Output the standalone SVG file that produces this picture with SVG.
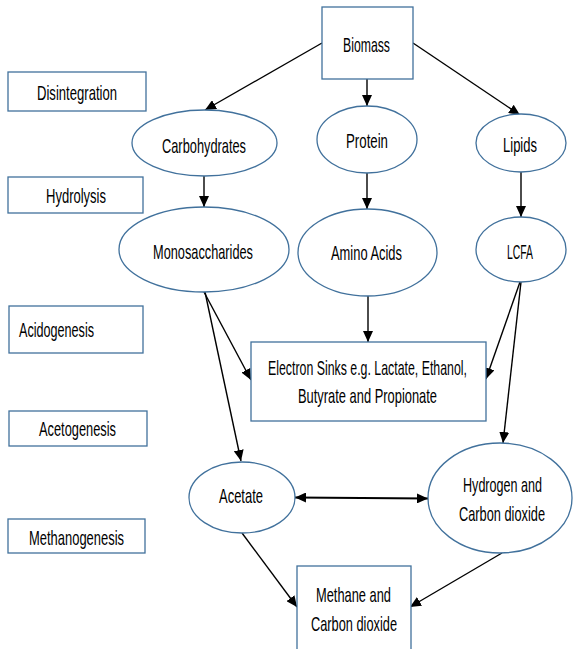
<svg xmlns="http://www.w3.org/2000/svg" width="573" height="649" viewBox="0 0 573 649">
<style>
.n{fill:#fff;stroke:#41719C;stroke-width:1.3}
.t{font-family:"Liberation Sans",Arial,sans-serif;font-size:20.5px;fill:#000;text-anchor:middle}
.l{text-anchor:start}
.c{stroke:#000;stroke-width:1.4;fill:none;marker-end:url(#ah)}
</style>
<defs>
<marker id="ah" markerUnits="userSpaceOnUse" markerWidth="12" markerHeight="10" refX="11" refY="5" orient="auto">
<path d="M0,0 L11,5 L0,10 Z" fill="#000"/>
</marker>
<marker id="as" markerUnits="userSpaceOnUse" markerWidth="12" markerHeight="10" refX="11" refY="5" orient="auto-start-reverse">
<path d="M0,0 L11,5 L0,10 Z" fill="#000"/>
</marker>
</defs>
<rect width="573" height="649" fill="#fff"/>
<g id="stages">
<g id="disintegration"><rect class="n" x="8" y="72" width="138" height="39"/><text class="t" transform="translate(77,100) scale(0.62,1)" textLength="129" lengthAdjust="spacingAndGlyphs">Disintegration</text></g>
<g id="hydrolysis"><rect class="n" x="8" y="177" width="135" height="36"/><text class="t" transform="translate(76,203) scale(0.62,1)" textLength="96.8" lengthAdjust="spacingAndGlyphs">Hydrolysis</text></g>
<g id="acidogenesis"><rect class="n" x="9" y="306" width="134" height="47"/><text class="t l" transform="translate(19,337) scale(0.62,1)" textLength="121" lengthAdjust="spacingAndGlyphs">Acidogenesis</text></g>
<g id="acetogenesis"><rect class="n" x="9" y="411" width="138" height="35"/><text class="t" transform="translate(77.5,436) scale(0.62,1)" textLength="124.2" lengthAdjust="spacingAndGlyphs">Acetogenesis</text></g>
<g id="methanogenesis"><rect class="n" x="8" y="519" width="137" height="34"/><text class="t" transform="translate(76.5,545) scale(0.62,1)" textLength="153.2" lengthAdjust="spacingAndGlyphs">Methanogenesis</text></g>
</g>
<g id="connectors">
<line class="c" x1="322" y1="43" x2="205" y2="110"/>
<line class="c" x1="367" y1="79" x2="367" y2="106"/>
<line class="c" x1="413" y1="43" x2="520" y2="115"/>
<line class="c" x1="204" y1="176" x2="204" y2="207"/>
<line class="c" x1="367" y1="173" x2="367" y2="209"/>
<line class="c" x1="521" y1="172" x2="521" y2="217"/>
<line class="c" x1="204" y1="292" x2="251" y2="380"/>
<line class="c" x1="205" y1="292" x2="241" y2="461"/>
<line class="c" x1="368" y1="296" x2="368" y2="342"/>
<line class="c" x1="520" y1="282" x2="486" y2="379"/>
<line class="c" x1="521" y1="282" x2="503" y2="443"/>
<line class="c" style="stroke-width:2;marker-start:url(#as)" x1="295" y1="497.5" x2="428" y2="498.5"/>
<line class="c" x1="242" y1="533" x2="297" y2="607"/>
<line class="c" x1="502" y1="553" x2="410" y2="607"/>
</g>
<g id="biomass"><rect class="n" x="322" y="7" width="91" height="72"/><text class="t" transform="translate(366.5,52) scale(0.62,1)" textLength="75.8" lengthAdjust="spacingAndGlyphs">Biomass</text></g>
<g id="carbohydrates"><ellipse class="n" cx="204.5" cy="143" rx="72.5" ry="33"/><text class="t" transform="translate(204,153) scale(0.62,1)" textLength="135.5" lengthAdjust="spacingAndGlyphs">Carbohydrates</text></g>
<g id="protein"><ellipse class="n" cx="367" cy="139.5" rx="50" ry="33.5"/><text class="t" transform="translate(367,148) scale(0.62,1)" textLength="67.7" lengthAdjust="spacingAndGlyphs">Protein</text></g>
<g id="lipids"><ellipse class="n" cx="521" cy="143" rx="45" ry="29"/><text class="t" transform="translate(520,152) scale(0.62,1)" textLength="54.8" lengthAdjust="spacingAndGlyphs">Lipids</text></g>
<g id="monosaccharides"><ellipse class="n" cx="204" cy="249.5" rx="85" ry="42.5"/><text class="t" transform="translate(203,259) scale(0.62,1)" textLength="161.3" lengthAdjust="spacingAndGlyphs">Monosaccharides</text></g>
<g id="amino-acids"><ellipse class="n" cx="367.5" cy="252.5" rx="69.5" ry="43.5"/><text class="t" transform="translate(366.5,260) scale(0.62,1)" textLength="114.5" lengthAdjust="spacingAndGlyphs">Amino Acids</text></g>
<g id="lcfa"><ellipse class="n" cx="521" cy="249.5" rx="45" ry="32.5"/><text class="t" transform="translate(520,259) scale(0.62,1)" textLength="41.9" lengthAdjust="spacingAndGlyphs">LCFA</text></g>
<g id="electron-sinks"><rect class="n" x="251" y="342" width="235" height="79"/><text class="t" transform="translate(367.5,375) scale(0.62,1)" textLength="321" lengthAdjust="spacingAndGlyphs">Electron Sinks e.g. Lactate, Ethanol,</text><text class="t" transform="translate(367.5,403) scale(0.62,1)" textLength="224.2" lengthAdjust="spacingAndGlyphs">Butyrate and Propionate</text></g>
<g id="acetate"><ellipse class="n" cx="242" cy="497.5" rx="53" ry="35.5"/><text class="t" transform="translate(241,503) scale(0.62,1)" textLength="71" lengthAdjust="spacingAndGlyphs">Acetate</text></g>
<g id="hydrogen"><ellipse class="n" cx="500" cy="498" rx="72" ry="55"/><text class="t" transform="translate(502.5,492) scale(0.62,1)" textLength="127.4" lengthAdjust="spacingAndGlyphs">Hydrogen and</text><text class="t" transform="translate(502,521) scale(0.62,1)" textLength="138.7" lengthAdjust="spacingAndGlyphs">Carbon dioxide</text></g>
<g id="methane"><rect class="n" x="297" y="566" width="114" height="100"/><text class="t" transform="translate(353.5,602) scale(0.62,1)" textLength="121" lengthAdjust="spacingAndGlyphs">Methane and</text><text class="t" transform="translate(354,631) scale(0.62,1)" textLength="138.7" lengthAdjust="spacingAndGlyphs">Carbon dioxide</text></g>
</svg>
